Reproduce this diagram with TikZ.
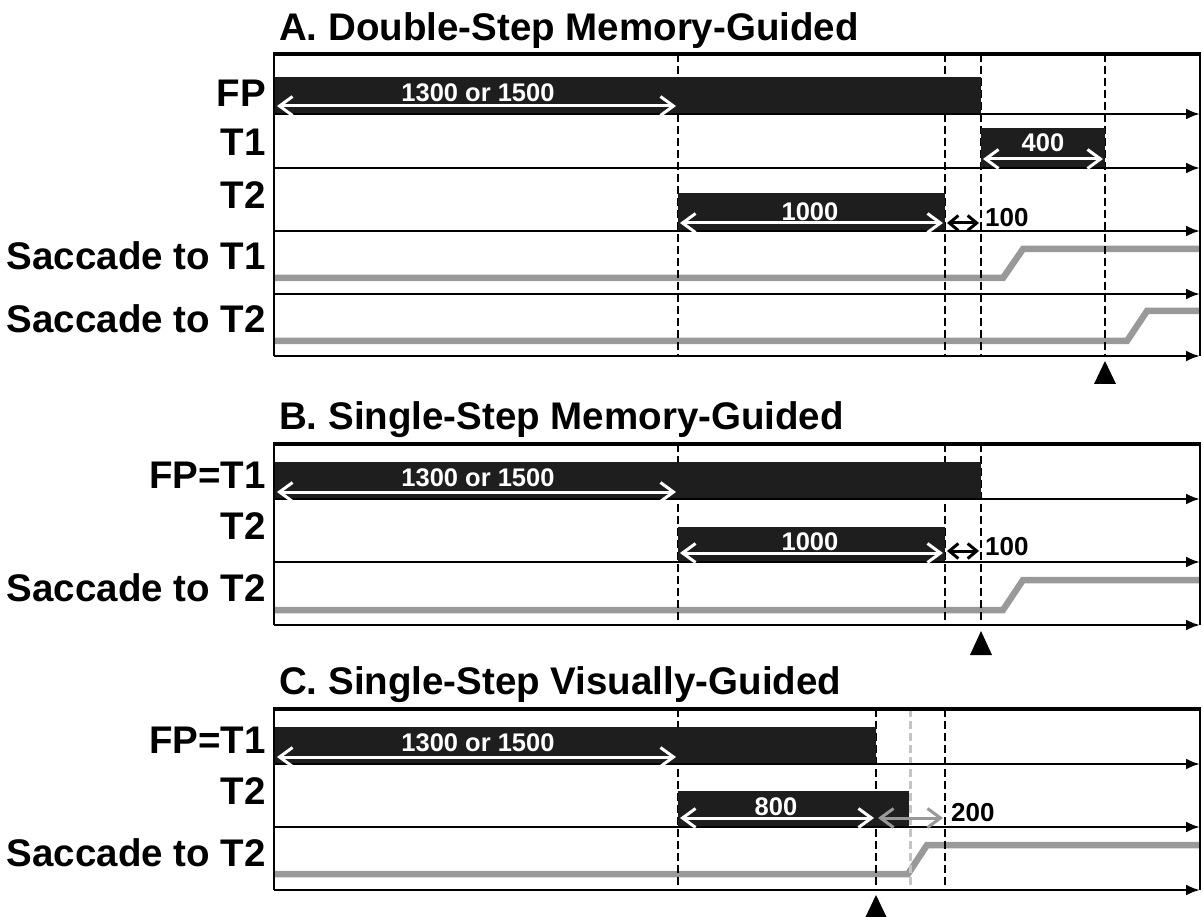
\documentclass[tikz,border=0pt]{standalone}
\usepackage{fontspec}
\setmainfont{Liberation Sans}
\usetikzlibrary{arrows.meta}
\definecolor{barc}{HTML}{1E1E1E}
\definecolor{sacc}{HTML}{999999}
\definecolor{lightd}{HTML}{C4C4C4}
\begin{document}
\begin{tikzpicture}[x=1pt,y=-1pt,
  bar/.style={fill=barc,draw=none},
  axis/.style={line width=2.6pt,-{Latex[length=14pt,width=11pt]}},
  boxline/.style={line width=2.6pt},
  warr/.style={white,line width=3pt,{Straight Barb[length=13pt,width=19pt]}-{Straight Barb[length=13pt,width=19pt]}},
  barr/.style={black,line width=3pt,{Straight Barb[length=9pt,width=15pt]}-{Straight Barb[length=9pt,width=15pt]}},
  garr/.style={sacc,line width=3pt,{Straight Barb[length=13pt,width=19pt]}-{Straight Barb[length=13pt,width=19pt]}},
  gsac/.style={sacc,line width=6.5pt},
  vdash/.style={line width=2.6pt,dash pattern=on 8pt off 4pt},
  ldash/.style={lightd,line width=3pt,dash pattern=on 8pt off 4pt},
  lab/.style={font=\bfseries\fontsize{38.5}{42}\selectfont,anchor=base east,inner sep=0pt},
  ttl/.style={font=\bfseries\fontsize{38.5}{42}\selectfont,anchor=base west,inner sep=0pt},
  num/.style={font=\bfseries\fontsize{25.5}{28}\selectfont,white,inner sep=0pt},
  numb/.style={font=\bfseries\fontsize{26}{28}\selectfont,black,anchor=west,inner sep=0pt},
  tri/.style={fill=black,draw=none}]
\useasboundingbox (0,0) rectangle (1203,917);

% ===================== Panel A =====================
\node[ttl] (tA) at (279,41) {A. Double-Step Memory-Guided};
\draw[gsac] (274,278) -- (1003,278) -- (1023,249) -- (1200,249);
\draw[gsac] (274,341) -- (1127,341) -- (1147,311) -- (1200,311);
\foreach \x in {678,945,981,1105} \draw[vdash] (\x,54) -- (\x,356);
\fill[bar] (274,77) rectangle (981,114);
\fill[bar] (981,128) rectangle (1105,168);
\fill[bar] (678,193) rectangle (945,231);
\foreach \y in {114,168,231,294,356} \draw[axis] (274,\y) -- (1200,\y);
\draw[boxline] (274,356) -- (274,54);
\draw[line width=3.2pt] (273,54) -- (1201,54);
\draw[boxline] (1200,54) -- (1200,356);
\draw[warr] (277,106) -- (676,106);
\draw[warr] (983,159) -- (1103,159);
\draw[warr] (680,223) -- (943,223);
\draw[barr] (947,223) -- (979,223);
\node[num] (a1300) at (478,93) {1300 or 1500};
\node[num] (a400) at (1043,143) {400};
\node[num] (a1000) at (810,212) {1000};
\node[numb] (a100) at (985,218) {100};
\node[lab] (aFP) at (266,107) {FP};
\node[lab] (aT1) at (266,156) {T1};
\node[lab] (aT2) at (266,209) {T2};
\node[lab] (aS1) at (266,270) {Saccade to T1};
\node[lab] (aS2) at (266,333) {Saccade to T2};
\fill[tri] (1094,384) -- (1105,361) -- (1116,384) -- cycle;

% ===================== Panel B =====================
\node[ttl] (tB) at (279,429) {B. Single-Step Memory-Guided};
\draw[gsac] (274,610) -- (1003,610) -- (1023,580) -- (1200,580);
\foreach \x in {678,945,981} \draw[vdash] (\x,444) -- (\x,625);
\fill[bar] (274,462) rectangle (981,499);
\fill[bar] (678,527) rectangle (945,562);
\foreach \y in {499,562,625} \draw[axis] (274,\y) -- (1200,\y);
\draw[boxline] (274,625) -- (274,444);
\draw[line width=3.2pt] (273,444) -- (1201,444);
\draw[boxline] (1200,444) -- (1200,625);
\draw[warr] (277,492) -- (676,492);
\draw[warr] (680,553) -- (943,553);
\draw[barr] (947,551) -- (979,551);
\node[num] (b1300) at (478,478) {1300 or 1500};
\node[num] (b1000) at (810,542) {1000};
\node[numb] (b100) at (985,547) {100};
\node[lab] (bFP) at (266,488) {FP=T1};
\node[lab] (bT2) at (266,539) {T2};
\node[lab] (bS2) at (266,601) {Saccade to T2};
\fill[tri] (970,655) -- (981,631) -- (992,655) -- cycle;

% ===================== Panel C =====================
\node[ttl] (tC) at (279,694) {C. Single-Step Visually-Guided};
\draw[gsac] (274,874) -- (908,874) -- (927,845) -- (1200,845);
\foreach \x in {678,876,945} \draw[vdash] (\x,709) -- (\x,890);
\draw[ldash] (910,709) -- (910,890);
\fill[bar] (274,727) rectangle (876,764);
\fill[bar] (678,791) rectangle (909,827);
\foreach \y in {764,827,890} \draw[axis] (274,\y) -- (1200,\y);
\draw[boxline] (274,890) -- (274,709);
\draw[line width=3.2pt] (273,709) -- (1201,709);
\draw[boxline] (1200,709) -- (1200,890);
\draw[warr] (277,757) -- (676,757);
\draw[warr] (680,818) -- (874,818);
\draw[garr] (878,818) -- (943,818);
\node[num] (c1300) at (478,743) {1300 or 1500};
\node[num] (c800) at (776,807) {800};
\node[numb] (c200) at (951,813) {200};
\node[lab] (cFP) at (266,753) {FP=T1};
\node[lab] (cT2) at (266,804) {T2};
\node[lab] (cS2) at (266,866) {Saccade to T2};
\fill[tri] (865,918) -- (876,895) -- (887,918) -- cycle;
\end{tikzpicture}
\end{document}
